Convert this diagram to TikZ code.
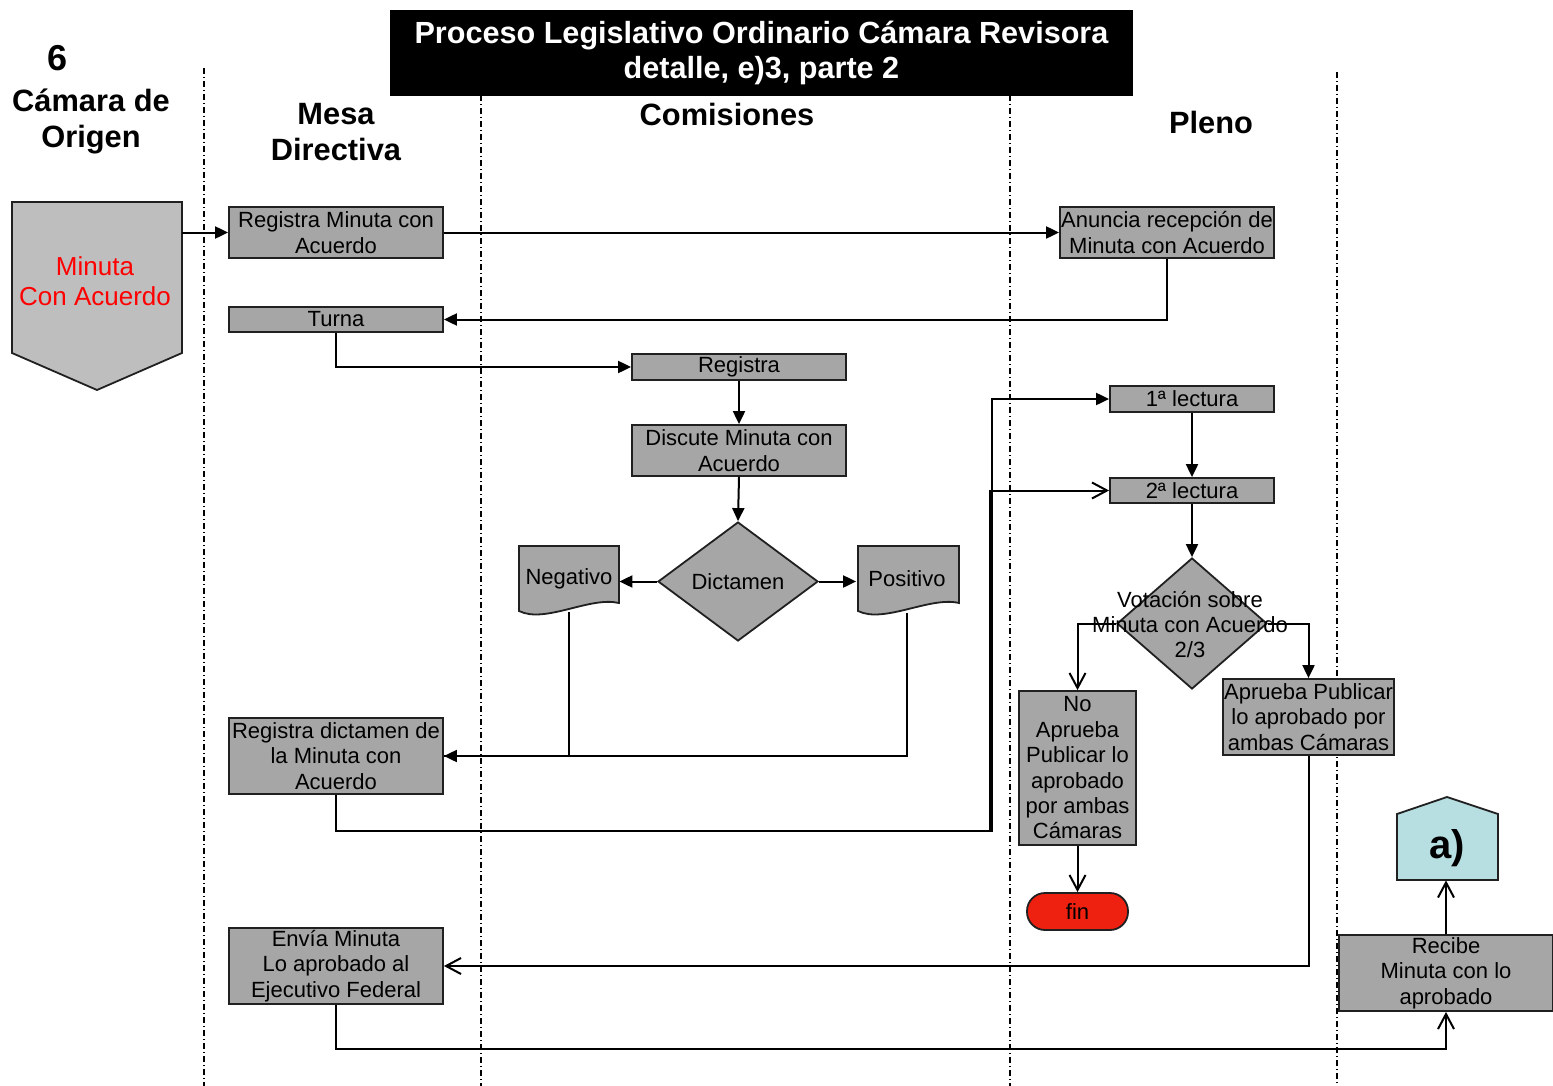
\documentclass[tikz,border=0pt]{standalone}
\usepackage{fontspec}
\setmainfont{Liberation Sans}
\usetikzlibrary{arrows.meta,shapes.geometric,calc}

\definecolor{boxgray}{HTML}{A6A6A6}
\definecolor{paleg}{HTML}{BEBEBE}
\definecolor{finred}{HTML}{EE2010}
\definecolor{palecyan}{HTML}{B7DFE2}
\definecolor{edge}{HTML}{202020}

\begin{document}
\begin{tikzpicture}[x=0.5pt,y=-0.5pt,
  sz/.style 2 args={minimum width=#1*0.5pt, minimum height=#2*0.5pt},
  proc/.style={draw=edge, line width=0.9pt, fill=boxgray, inner sep=0pt,
    align=center, font=\fontsize{11}{12.7}\selectfont},
  plain/.style={inner sep=0pt, align=center, font=\fontsize{11}{12.5}\selectfont},
  decide/.style={shape=diamond, draw=edge, line width=0.9pt, fill=boxgray,
    inner sep=0pt, align=center, font=\fontsize{11}{12.5}\selectfont},
  outline/.style={draw=edge, line width=0.9pt},
  hdr/.style={align=center, font=\bfseries\fontsize{15.4}{18}\selectfont},
  lane/.style={line width=0.6pt, dash pattern=on 3pt off 1.5pt on 0.5pt off 1.5pt},
  conn/.style={line width=1pt},
  fa/.style={conn, -{Triangle[length=6.5pt,width=6pt]}},
  oa/.style={conn, -{Straight Barb[length=7.5pt,width=8pt,line width=1pt]}},
]
\useasboundingbox (0,0) rectangle (1553,1086);

% swimlane separators
\draw[lane] (204,68) -- (204,1086);
\draw[lane] (481,95) -- (481,1086);
\draw[lane] (1010,95) -- (1010,1086);
\draw[lane] (1337,72) -- (1337,1086);

% title and lane headers
\node[fill=black, text=white, sz={743}{86}, align=center,
  font=\bfseries\fontsize{15.3}{17.5}\selectfont] (title) at (761.5,53)
  {Proceso Legislativo Ordinario Cámara Revisora\\detalle, e)3, parte 2};
\node[font=\bfseries\fontsize{18}{20}\selectfont] (num) at (58,58) {6};
\node[hdr] (hOrigen) at (91,121) {Cámara de\\Origen};
\node[hdr] (hMesa) at (336,132) {Mesa\\Directiva};
\node[hdr] (hCom) at (727,114) {Comisiones};
\node[hdr] (hPleno) at (1211,122) {Pleno};

% incoming off-page connector
\draw[outline, fill=paleg] (12,202) -- (182,202) -- (182,353) -- (97,390) -- (12,353) -- cycle;
\node[plain, text=red, font=\fontsize{13}{15}\selectfont] (minuta) at (95,281) {Minuta\\Con Acuerdo};
\coordinate (minR) at (182,232.5);

% Mesa Directiva
\node[proc, sz={214}{51}] (regmin) at (336,232.5) {Registra Minuta con\\Acuerdo};
\node[proc, sz={214}{25}] (turna) at (336,319.5) {Turna};
\node[proc, sz={214}{76}] (regdict) at (336,756) {Registra dictamen de\\la Minuta con\\Acuerdo};
\node[proc, sz={214}{76}] (envia) at (336,966) {Envía Minuta\\Lo aprobado al\\Ejecutivo Federal};

% Comisiones
\node[proc, sz={214}{26}] (registra) at (739,367) {Registra};
\node[proc, sz={214}{51}] (discute) at (739,450.5) {Discute Minuta con\\Acuerdo};
\node[decide, sz={160}{119}] (dict) at (738,581.5) {Dictamen};

\draw[outline, fill=boxgray] (519,546) -- (619,546) -- (619,603)
  .. controls (590,596) and (545,624) .. (519,611) -- cycle;
\node[plain, sz={100}{66}] (neg) at (569,579) {Negativo};
\draw[outline, fill=boxgray] (858,546) -- (959,546) -- (959,603)
  .. controls (930,596) and (884,624) .. (858,611) -- cycle;
\node[plain, sz={101}{68}] (pos) at (907,579) {Positivo};

% Pleno
\node[proc, sz={214}{51}] (anuncia) at (1167,232.5) {Anuncia recepción de\\Minuta con Acuerdo};
\node[proc, sz={164}{26}] (lect1) at (1192,399) {1ª lectura};
\node[proc, sz={164}{25}] (lect2) at (1192,490.5) {2ª lectura};
\node[decide, sz={150}{131}] (vot) at (1192,623.5) {};
\node[proc, sz={117}{154}] (noap) at (1077.5,768) {No\\Aprueba\\Publicar lo\\aprobado\\por ambas\\Cámaras};
\node[proc, sz={171}{76}] (aprueba) at (1308.5,717) {Aprueba Publicar\\lo aprobado por\\ambas Cámaras};
\node[proc, fill=finred, rounded corners=9pt, sz={101}{37}] (fin) at (1077.5,911.5) {fin};

% outgoing off-page connector and receiving chamber
\draw[outline, fill=palecyan] (1397,880) -- (1397,814) -- (1447,797) -- (1498,814) -- (1498,880) -- cycle;
\node[sz={101}{83}, inner sep=0pt] (aconn) at (1447.5,838.5) {};
\node[font=\bfseries\fontsize{20}{22}\selectfont] (atxt) at (1447,848) {a)};
\node[proc, sz={214}{76}] (recibe) at (1446,973) {Recibe\\Minuta con lo\\aprobado};

% connectors
\draw[fa] (minR) -- (regmin.west);
\draw[fa] (regmin.east) -- (anuncia.west);
\draw[fa] (anuncia.south) |- (turna.east);
\draw[fa] (turna.south) |- (registra.west);
\draw[fa] (registra.south) -- (discute.north);
\draw[fa] (discute.south) -- (dict.north);
\draw[fa] (dict.west) -- (neg.east |- dict.west);
\draw[fa] (dict.east) -- (pos.west |- dict.east);
\draw[fa] (neg.south) |- (regdict.east);
\draw[conn] (pos.south) |- (regdict.east);
\coordinate (j1) at (992,831);
\coordinate (j2) at (990,831);
\draw[fa] (regdict.south) |- (j1) |- (lect1.west);
\draw[oa] (regdict.south) |- (j2) |- (lect2.west);
\draw[fa] (lect1.south) -- (lect2.north);
\draw[fa] (lect2.south) -- (vot.north);
\draw[oa] (vot.west) -| (noap.north);
\draw[fa] (vot.east) -| (aprueba.north);
\draw[oa] (noap.south) -- (fin.north);
\draw[oa] (aprueba.south) |- (envia.east);
\draw[oa] (envia.south) -- ++(0,44) -| (recibe.south);
\draw[oa] (recibe.north) -- (recibe.north |- aconn.south);

% voting label over the decision
\node[plain] (vottxt) at (1190,624.5) {Votación sobre\\Minuta con Acuerdo\\2/3};
\end{tikzpicture}
\end{document}
